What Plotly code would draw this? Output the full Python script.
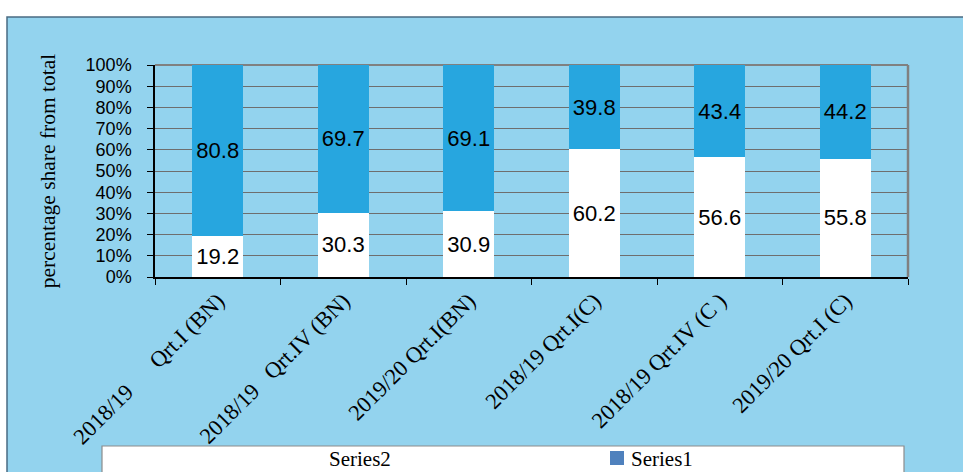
import plotly.graph_objects as go

# Category labels (multiple spaces kept as non-breaking spaces)
NB = "\u00a0"
categories = [
    "2018/19" + NB * 6 + "Qrt.I (BN)",
    "2018/19" + NB * 3 + "Qrt.IV (BN)",
    "2019/20 Qrt.I(BN)",
    "2018/19 Qrt.I(C)",
    "2018/19 Qrt.IV (C )",
    "2019/20 Qrt.I (C)",
]
series2 = [19.2, 30.3, 30.9, 60.2, 56.6, 55.8]
series1 = [80.8, 69.7, 69.1, 39.8, 43.4, 44.2]
series_names = ["Series2", "Series1"]
y_ticks = list(range(0, 101, 10))
y_tick_text = [f"{v}%" for v in y_ticks]

W, H = 963, 472
L, R, T, B = 155, 908, 65, 277  # plot area in pixels


def px_x(p):
    return (p - L) / (R - L)


def px_y(p):
    return (B - p) / (B - T)


BAR_BLUE = "#27A6DF"
FRAME_BLUE = "#93D3EE"
LEGEND_BLUE = "#4F81BD"
SERIF = "Liberation Serif"
SANS = "Liberation Sans"

fig = go.Figure()

fig.add_trace(go.Bar(
    x=categories, y=series2, name=series_names[0],
    marker=dict(color="white", line=dict(width=0)),
    text=[f"{v:.1f}" for v in series2],
    textposition="inside", insidetextanchor="middle", constraintext="none",
    textfont=dict(family=SANS, size=22, color="black"),
))
fig.add_trace(go.Bar(
    x=categories, y=series1, name=series_names[1],
    marker=dict(color=BAR_BLUE, line=dict(width=0)),
    text=[f"{v:.1f}" for v in series1],
    textposition="inside", insidetextanchor="middle", constraintext="none",
    textfont=dict(family=SANS, size=22, color="black"),
))

shapes = [
    # outer chart frame
    dict(type="rect", xref="paper", yref="paper", layer="below",
         x0=px_x(7), x1=px_x(975), y0=px_y(485), y1=px_y(17),
         fillcolor=FRAME_BLUE, line=dict(color="#4A6B82", width=1.5)),
    # legend box
    dict(type="rect", xref="paper", yref="paper", layer="below",
         x0=px_x(102), x1=px_x(904), y0=px_y(490), y1=px_y(446),
         fillcolor="white", line=dict(color="#8C8C8C", width=1.2)),
    # legend keys
    dict(type="rect", xref="paper", yref="paper", layer="below",
         x0=px_x(307), x1=px_x(321), y0=px_y(465), y1=px_y(451),
         fillcolor="white", line=dict(width=0)),
    dict(type="rect", xref="paper", yref="paper", layer="below",
         x0=px_x(610), x1=px_x(624), y0=px_y(465), y1=px_y(451),
         fillcolor=LEGEND_BLUE, line=dict(width=0)),
    # plot area border (top / right)
    dict(type="line", xref="paper", yref="paper", layer="above",
         x0=1, x1=1, y0=0, y1=1, line=dict(color="#808080", width=2.5)),
    dict(type="line", xref="paper", yref="paper", layer="below",
         x0=0, x1=1, y0=1, y1=1, line=dict(color="#808080", width=2)),
]

annotations = [
    dict(text=series_names[0], xref="paper", yref="paper",
         x=px_x(327), y=px_y(459), xanchor="left", yanchor="middle",
         showarrow=False, font=dict(family=SERIF, size=21, color="black")),
    dict(text=series_names[1], xref="paper", yref="paper",
         x=px_x(629), y=px_y(459), xanchor="left", yanchor="middle",
         showarrow=False, font=dict(family=SERIF, size=21, color="black")),
]

fig.update_layout(
    width=W, height=H,
    margin=dict(l=L, r=W - R, t=T, b=H - B, pad=0),
    paper_bgcolor="white",
    plot_bgcolor="#C0C0C0",
    barmode="stack",
    bargap=0.59,
    shapes=shapes,
    annotations=annotations,
    showlegend=False,
    xaxis=dict(
        type="category",
        tickson="boundaries",
        ticks="outside", ticklen=6, tickcolor="black", tickwidth=1,
        showline=True, linecolor="black", linewidth=1.5,
        tickangle=-45,
        tickfont=dict(family=SERIF, size=22.5, color="black"),
        showgrid=False,
    ),
    yaxis=dict(
        range=[0, 100],
        tickmode="array",
        tickvals=y_ticks,
        ticktext=y_tick_text,
        ticks="outside", ticklen=6, tickcolor="black", tickwidth=1,
        showline=True, linecolor="black", linewidth=1.5,
        showgrid=True, gridcolor="#6E6E6E", gridwidth=1,
        tickfont=dict(family=SANS, size=18, color="black"),
        ticklabelstandoff=12,
        title=dict(text="percentage share from total",
                   font=dict(family=SERIF, size=21.5, color="black"),
                   standoff=24),
        zeroline=False,
    ),
)

fig.write_html("out.html")
